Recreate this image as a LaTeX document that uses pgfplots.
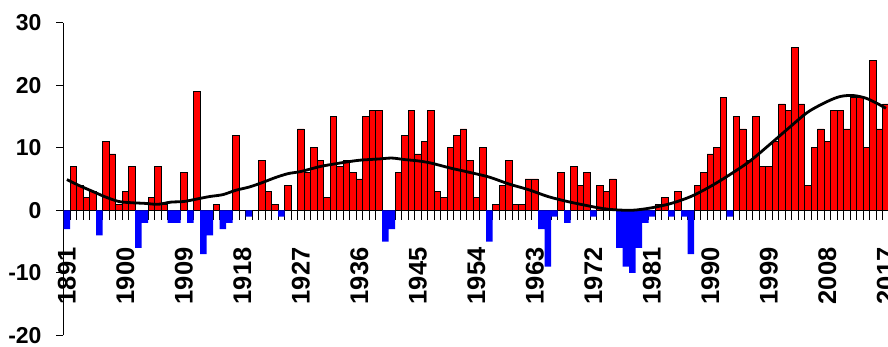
\documentclass[border=0pt]{standalone}
\usepackage{fontspec}
\setmainfont{Liberation Sans}
\usepackage{pgfplots}
\pgfplotsset{compat=1.18}

\begin{document}
\begin{tikzpicture}
\path[use as bounding box] (-63.3pt,-11.7pt) rectangle (824.7pt,335.3pt);
\begin{axis}[
  at={(0pt,0pt)}, anchor=south west,
  scale only axis,
  width=824.7pt, height=312.6pt,
  xmin=1890.45, xmax=2017.33,
  ymin=-20, ymax=30,
  axis x line*=middle,
  axis y line*=left,
  axis line style={line width=1pt, black},
  hide obscured x ticks=false,
  hide obscured y ticks=false,
  ytick={-20,-10,0,10,20,30},
  yticklabels={-20,-10,0,10,20,30},
  xtick={1891,1900,1909,1918,1927,1936,1945,1954,1963,1972,1981,1990,1999,2008,2017},
  xticklabels={1891,1900,1909,1918,1927,1936,1945,1954,1963,1972,1981,1990,1999,2008,2017},
  minor xtick={1890.5,1891.5,...,2017.5},
  tick align=outside,
  major tick length=7pt,
  minor tick length=9.7pt,
  every major x tick/.append style={draw=none},
  every minor x tick/.append style={draw=black, line width=1pt},
  ytick style={draw=black, line width=1pt},
  yticklabel style={font=\fontsize{23}{23}\selectfont\bfseries, anchor=east, inner sep=0pt, xshift=-14.6pt},
  xticklabel style={font=\fontsize{25.5}{25.5}\selectfont\bfseries, yshift=-30pt, rotate=90, anchor=east, inner sep=0pt},
]
% annual anomalies above zero
\addplot[ybar, bar width=1, bar shift=0pt, fill=red, draw=black, line width=0.8pt] coordinates {
(1892,7) (1893,4) (1894,2) (1895,3) (1897,11) (1898,9) (1899,1) (1900,3) (1901,7)
(1904,2) (1905,7) (1906,1) (1909,6) (1911,19) (1914,1) (1917,12)
(1921,8) (1922,3) (1923,1) (1925,4) (1927,13) (1928,6) (1929,10) (1930,8) (1931,2)
(1932,15) (1933,7) (1934,8) (1935,6) (1936,5) (1937,15) (1938,16) (1939,16)
(1942,6) (1943,12) (1944,16) (1945,9) (1946,11) (1947,16) (1948,3) (1949,2)
(1950,10) (1951,12) (1952,13) (1953,8) (1954,2) (1955,10) (1957,1) (1958,4)
(1959,8) (1960,1) (1961,1) (1962,5) (1963,5) (1967,6) (1969,7) (1970,4) (1971,6)
(1973,4) (1974,3) (1975,5) (1982,1) (1983,2) (1985,3) (1988,4) (1989,6) (1990,9)
(1991,10) (1992,18) (1994,15) (1995,13) (1996,8) (1997,15) (1998,7) (1999,7)
(2000,11) (2001,17) (2002,16) (2003,26) (2004,17) (2005,4) (2006,10) (2007,13)
(2008,11) (2009,16) (2010,16) (2011,13) (2012,18) (2013,18) (2014,10) (2015,24)
(2016,13) (2017,17)
};
% annual anomalies below zero
\addplot[ybar, bar width=1, bar shift=0pt, fill=blue, draw=none] coordinates {
(1891,-3) (1896,-4) (1902,-6) (1903,-2) (1907,-2) (1908,-2) (1910,-2) (1912,-7)
(1913,-4) (1915,-3) (1916,-2) (1919,-1) (1924,-1) (1940,-5) (1941,-3) (1956,-5)
(1964,-3) (1965,-9) (1966,-1) (1968,-2) (1972,-1) (1976,-6) (1977,-9) (1978,-10)
(1979,-6) (1980,-2) (1981,-1) (1984,-1) (1986,-1) (1987,-7) (1993,-1)
};
% smoothed trend
\addplot[black, line width=2.8pt, smooth, no markers] coordinates {
(1891,4.9) (1893,3.9) (1895,3.0) (1897,2.1) (1899,1.4) (1901,1.2) (1903,1.1)
(1905,0.95) (1907,1.3) (1909,1.4) (1911,1.8) (1913,2.2) (1915,2.5) (1917,3.2)
(1919,3.7) (1921,4.4) (1923,5.2) (1925,5.85) (1927,6.2) (1930,7.0) (1933,7.55)
(1936,8.0) (1939,8.2) (1941,8.35) (1943,8.1) (1945,7.9) (1947,7.55) (1950,6.75)
(1953,6.05) (1956,5.3) (1959,4.2) (1962,3.3) (1965,2.2) (1968,1.4) (1971,0.75)
(1973,0.35) (1975,0.1) (1978,0.0) (1981,0.4) (1984,1.1) (1987,2.2) (1990,3.8)
(1993,5.7) (1996,7.8) (1999,10.4) (2002,13.1) (2005,15.7) (2008,17.4) (2010,18.2)
(2012,18.35) (2014,17.9) (2016,16.9) (2017,16.3)
};
\end{axis}
\end{tikzpicture}
\end{document}
